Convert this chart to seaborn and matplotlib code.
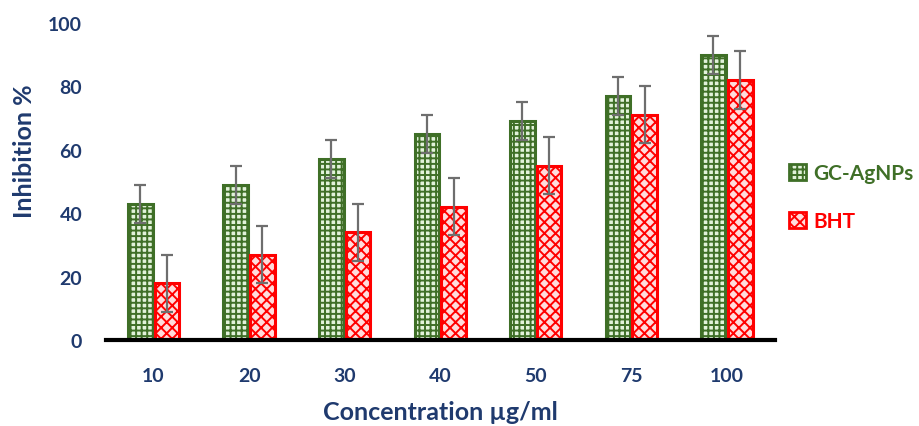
import matplotlib
matplotlib.use("Agg")
import matplotlib.pyplot as plt
from matplotlib.patches import Patch
import seaborn as sns
import pandas as pd

concentrations = ["10", "20", "30", "40", "50", "75", "100"]
gc_agnps = [43, 49, 57, 65, 69, 77, 90]
bht = [18, 27, 34, 42, 55, 71, 82]
gc_err = [6, 6, 6, 6, 6, 6, 6]
bht_err = [9, 9, 9, 9, 9, 9, 9]
series = ["GC-AgNPs", "BHT"]

navy = "#1f3a6e"
green_dark = "#3f6f27"
green_light = "#e2f2da"
red = "#ff0000"
red_light = "#ffdcdc"

sns.set_theme(style="white")
plt.rcParams["font.family"] = ["Lato", "DejaVu Sans"]
plt.rcParams["hatch.linewidth"] = 1.4

df = pd.DataFrame({
    "Concentration": concentrations * 2,
    "Inhibition": gc_agnps + bht,
    "Sample": [series[0]] * len(concentrations) + [series[1]] * len(concentrations),
})

fig = plt.figure(figsize=(9.2, 4.27), dpi=100)
ax = fig.add_axes([0.115, 0.201, 0.727, 0.743])

sns.barplot(data=df, x="Concentration", y="Inhibition", hue="Sample",
            order=concentrations, hue_order=series,
            palette=[green_light, red_light], width=0.56, gap=0.08,
            errorbar=None, legend=False, ax=ax)

styles = {
    series[0]: dict(face=green_light, edge=green_dark, hatch="+++"),
    series[1]: dict(face=red_light, edge=red, hatch="xxx"),
}

bars = ax.patches
n = len(concentrations)
for i, p in enumerate(bars[:2 * n]):
    st = styles[series[i // n]]
    p.set_facecolor(st["face"])
    p.set_edgecolor(st["edge"])
    p.set_hatch(st["hatch"])
    p.set_linewidth(2.2)

# error bars centred on each drawn bar
for s_idx, errs in enumerate([gc_err, bht_err]):
    for j in range(n):
        p = bars[s_idx * n + j]
        xc = p.get_x() + p.get_width() / 2
        ax.errorbar(xc, p.get_height(), yerr=errs[j], fmt="none",
                    ecolor="#6e6e6e", elinewidth=1.6, capsize=4.2,
                    capthick=1.6, zorder=5)

ax.set_ylim(0, 100)
ax.set_yticks([0, 20, 40, 60, 80, 100])
ax.set_xlim(-0.5, n - 0.5)

for side in ["top", "right", "left"]:
    ax.spines[side].set_visible(False)
ax.spines["bottom"].set_color("black")
ax.spines["bottom"].set_linewidth(3)
ax.tick_params(axis="both", length=0, labelsize=14, labelcolor=navy)
ax.tick_params(axis="x", pad=19)
ax.tick_params(axis="y", pad=17)
for lbl in ax.get_xticklabels() + ax.get_yticklabels():
    lbl.set_fontweight("bold")

ax.set_xlabel("Concentration µg/ml", fontsize=18, fontweight="bold", color=navy)
ax.xaxis.set_label_coords(0.5, -0.224)
ax.xaxis.label.set_va("center")
ax.set_ylabel("Inhibition %", fontsize=18, fontweight="bold", color=navy)
ax.yaxis.set_label_coords(-0.121, 0.60)
ax.yaxis.label.set_va("center")

handles = [Patch(facecolor=styles[s]["face"], edgecolor=styles[s]["edge"],
                 hatch=styles[s]["hatch"], linewidth=2) for s in series]
leg = fig.legend(handles, series, loc="center left",
                 bbox_to_anchor=(0.858, 0.536), frameon=False, borderpad=0,
                 borderaxespad=0,
                 handlelength=0.8, handleheight=0.8, handletextpad=0.35,
                 labelspacing=1.35, prop={"weight": "bold", "size": 15})
leg.get_texts()[0].set_color(green_dark)
leg.get_texts()[1].set_color(red)

fig.savefig("out.png", dpi=100)
